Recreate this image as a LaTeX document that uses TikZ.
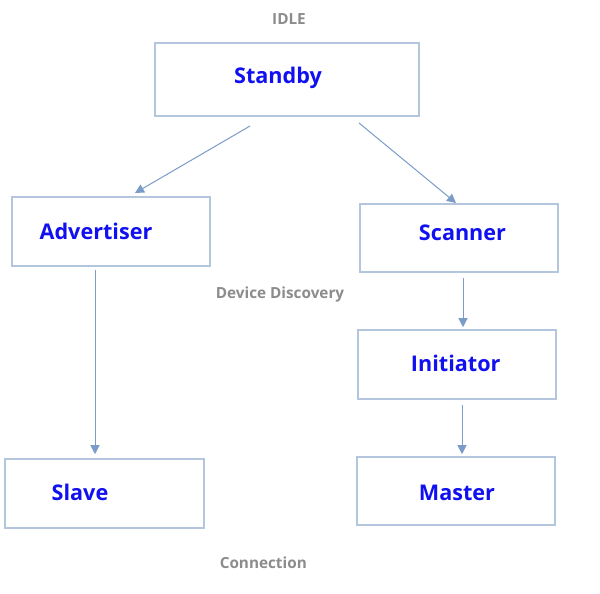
\documentclass[tikz,border=0pt]{standalone}
\usepackage{fontspec}
\setmainfont{Open Sans}
\usetikzlibrary{arrows.meta}
\definecolor{boxline}{HTML}{B4C6DE}
\definecolor{arrowc}{HTML}{7B9CC9}
\definecolor{labc}{HTML}{8C8C8C}
\definecolor{txtc}{HTML}{1010F0}
\tikzset{
  statebox/.style={draw=boxline, line width=1.6pt, rectangle, inner sep=0pt},
  statetxt/.style={text=txtc, font=\fontsize{21.6}{26}\selectfont\bfseries, anchor=base, inner sep=0pt},
  grouplab/.style={text=labc, font=\fontsize{15.3}{18}\selectfont\bfseries, anchor=base, inner sep=0pt},
  flow/.style={draw=arrowc, line width=1pt, -{Triangle[length=9pt,width=9pt]}}
}
\begin{document}
\begin{tikzpicture}[x=1pt,y=-1pt]
\useasboundingbox[fill=white] (0,0) rectangle (600,594);
% boxes
\node[statebox, minimum width=264pt, minimum height=73pt] (standby) at (287,79.5) {};
\node[statebox, minimum width=198pt, minimum height=69pt] (advertiser) at (111,231.5) {};
\node[statebox, minimum width=198pt, minimum height=68pt] (scanner) at (459,238) {};
\node[statebox, minimum width=198pt, minimum height=69pt] (initiator) at (457,364.5) {};
\node[statebox, minimum width=199pt, minimum height=69pt] (slave) at (104.5,493.5) {};
\node[statebox, minimum width=198pt, minimum height=68pt] (master) at (456,491) {};
% texts
\node[statetxt] (tstandby) at (278,83.3) {Standby};
\node[statetxt] (tadvertiser) at (96,239) {Advertiser};
\node[statetxt] (tscanner) at (462.5,240) {Scanner};
\node[statetxt] (tinitiator) at (455.7,371) {Initiator};
\node[statetxt] (tslave) at (80,500) {Slave};
\node[statetxt] (tmaster) at (457,500) {Master};
% group labels
\node[grouplab] (idle) at (289,25) {IDLE};
\node[grouplab] (discovery) at (280,298.3) {Device Discovery};
\node[grouplab] (connection) at (263.3,568.3) {Connection};
% connector endpoints
\coordinate (s1) at (250,126);
\coordinate (e1) at (135,193);
\coordinate (s2) at (359,123);
\coordinate (e2) at (456,203);
\draw[flow] (s1) -- (e1);
\draw[flow] (s2) -- (e2);
\draw[flow, shorten <=3pt, shorten >=4pt] (advertiser.south -| 95,0) -- (slave.north -| 95,0);
\draw[flow, shorten <=5pt, shorten >=2pt] (scanner.south -| 463,0) -- (initiator.north -| 463,0);
\draw[flow, shorten <=5pt, shorten >=2pt] (initiator.south -| 462,0) -- (master.north -| 462,0);
\end{tikzpicture}
\end{document}
